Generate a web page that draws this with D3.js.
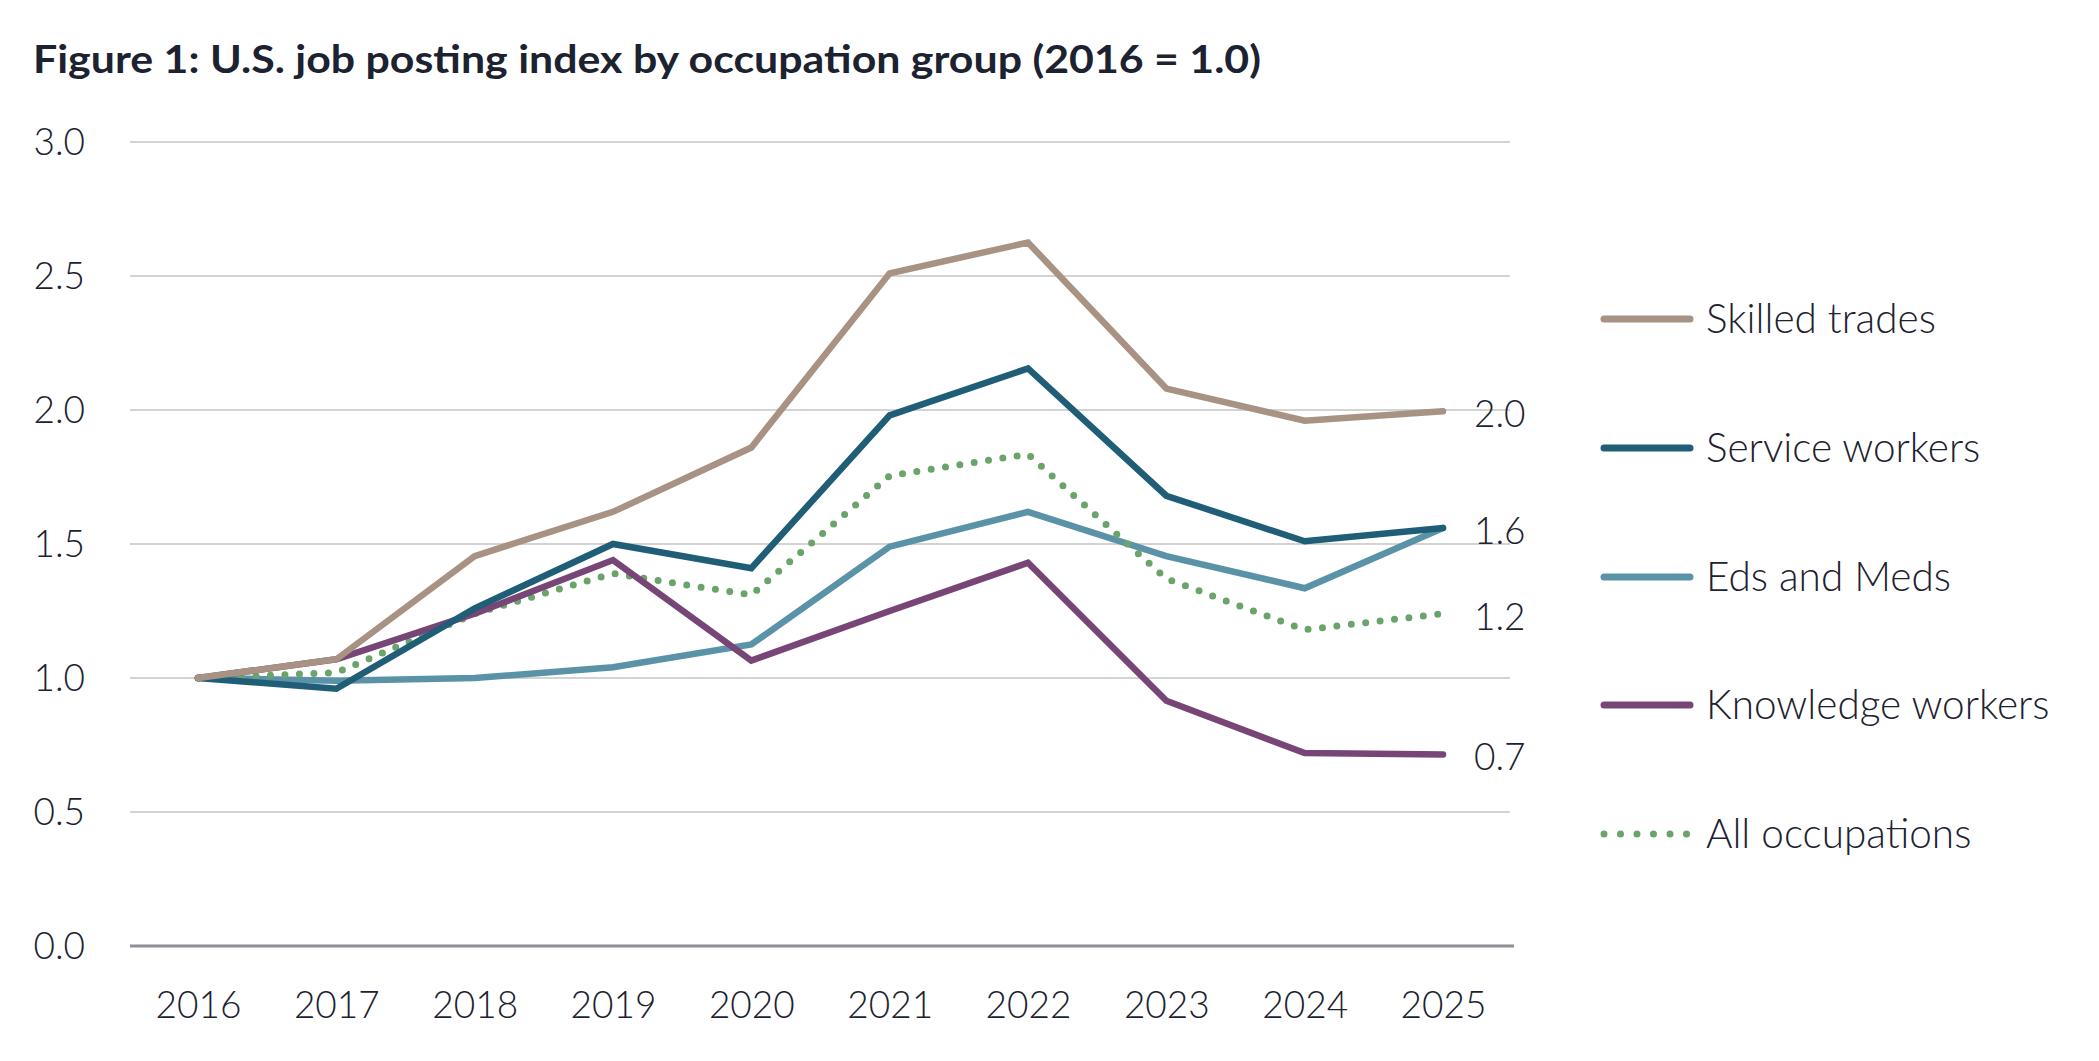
<!DOCTYPE html>
<html>
<head>
<meta charset="utf-8">
<script src="https://cdn.jsdelivr.net/npm/d3@7"></script>
<style>
  body { margin: 0; background: #fff; }
  svg text { fill: #1c2230; }
</style>
</head>
<body>
<div id="chart"></div>
<script>
const years = [2016, 2017, 2018, 2019, 2020, 2021, 2022, 2023, 2024, 2025];
const yTicks = [0, 0.5, 1.0, 1.5, 2.0, 2.5, 3.0];

const skilledTrades = [1.0, 1.07, 1.455, 1.62, 1.86, 2.51, 2.625, 2.08, 1.96, 1.995];
const serviceWorkers = [1.0, 0.96, 1.26, 1.50, 1.41, 1.98, 2.155, 1.68, 1.51, 1.56];
const edsAndMeds = [1.0, 0.99, 1.0, 1.04, 1.125, 1.49, 1.62, 1.455, 1.335, 1.56];
const knowledgeWorkers = [1.0, 1.07, 1.24, 1.44, 1.065, 1.25, 1.43, 0.915, 0.72, 0.715];
const allOccupations = [1.0, 1.02, 1.24, 1.39, 1.31, 1.755, 1.835, 1.37, 1.18, 1.24];

const seriesNames = ["Skilled trades", "Service workers", "Eds and Meds", "Knowledge workers", "All occupations"];
const seriesColors = ["#a89283", "#1f5e76", "#5a93a7", "#774676", "#6aa46b"];
const endLabels = ["2.0", "1.6", "1.2", "0.7"];
// which series each end label sits next to
const endLabelSeries = [0, 1, 4, 3];

const series = [skilledTrades, serviceWorkers, edsAndMeds, knowledgeWorkers, allOccupations]
  .map((values, i) => ({ name: seriesNames[i], color: seriesColors[i], dotted: i === 4, values }));

const width = 2099, height = 1061;
const margin = { left: 130, right: 589, top: 142, bottom: 115 };

const svg = d3.select("#chart").append("svg")
  .attr("width", width)
  .attr("height", height);

const x = d3.scalePoint()
  .domain(years)
  .range([198, 1443]);

const y = d3.scaleLinear()
  .domain([0, 3])
  .range([height - margin.bottom, margin.top]);

// title
svg.append("text")
  .attr("x", 33)
  .attr("y", 73)
  .attr("font-family", "Lato, sans-serif")
  .attr("font-weight", 700)
  .attr("font-size", 39)
  .attr("textLength", 1228)
  .attr("lengthAdjust", "spacingAndGlyphs")
  .text("Figure 1: U.S. job posting index by occupation group (2016 = 1.0)");

// gridlines
svg.append("g")
  .selectAll("line")
  .data(yTicks.filter(d => d > 0))
  .join("line")
  .attr("x1", margin.left)
  .attr("x2", width - margin.right)
  .attr("y1", d => y(d))
  .attr("y2", d => y(d))
  .attr("stroke", "#d3d3d3")
  .attr("stroke-width", 2);

// y axis labels
const yAxis = d3.axisLeft(y).tickValues(yTicks).tickFormat(d3.format(".1f")).tickSize(0).tickPadding(0);
svg.append("g")
  .attr("transform", "translate(85,0)")
  .call(yAxis)
  .call(g => g.select(".domain").remove())
  .selectAll("text")
  .attr("font-family", "Lato, sans-serif")
  .attr("font-weight", 300)
  .attr("font-size", 37)
  .attr("dy", "0.35em");

// x axis
const xAxis = d3.axisBottom(x).tickSize(0).tickPadding(0);
svg.append("g")
  .attr("transform", `translate(0,${y(0)})`)
  .call(xAxis)
  .call(g => g.select(".domain").remove())
  .selectAll("text")
  .attr("font-family", "Lato, sans-serif")
  .attr("font-weight", 300)
  .attr("font-size", 37)
  .attr("dy", 0)
  .attr("y", 72);

svg.append("line")
  .attr("x1", margin.left)
  .attr("x2", 1514)
  .attr("y1", y(0))
  .attr("y2", y(0))
  .attr("stroke", "#8c8f94")
  .attr("stroke-width", 3);

// lines
const line = d3.line()
  .x((d, i) => x(years[i]))
  .y(d => y(d));

const drawOrder = [2, 4, 3, 1, 0];
svg.append("g")
  .selectAll("path")
  .data(drawOrder.map(i => series[i]))
  .join("path")
  .attr("d", d => line(d.values))
  .attr("fill", "none")
  .attr("stroke", d => d.color)
  .attr("stroke-width", d => d.dotted ? 7 : 6.5)
  .attr("stroke-linecap", "round")
  .attr("stroke-linejoin", "miter")
  .attr("stroke-dasharray", d => d.dotted ? "0 14.5" : null);

// end labels
svg.append("g")
  .selectAll("text")
  .data(endLabels)
  .join("text")
  .attr("x", 1474)
  .attr("y", (d, i) => y(series[endLabelSeries[i]].values[years.length - 1]) + 3)
  .attr("dy", "0.35em")
  .attr("font-family", "Lato, sans-serif")
  .attr("font-weight", 300)
  .attr("font-size", 37)
  .text(d => d);

// legend
const legendY = [319, 448, 577, 705, 834];
const legend = svg.append("g")
  .selectAll("g")
  .data(series)
  .join("g")
  .attr("transform", (d, i) => `translate(1600,${legendY[i]})`);

legend.append("line")
  .attr("x1", 4)
  .attr("x2", d => d.dotted ? 87 : 90)
  .attr("stroke", d => d.color)
  .attr("stroke-width", 7)
  .attr("stroke-linecap", "round")
  .attr("stroke-dasharray", d => d.dotted ? "0 16.5" : null);

legend.append("text")
  .attr("x", 106)
  .attr("dy", "0.35em")
  .attr("font-family", "Lato, sans-serif")
  .attr("font-weight", 300)
  .attr("font-size", 40.5)
  .text(d => d.name);
</script>
</body>
</html>
